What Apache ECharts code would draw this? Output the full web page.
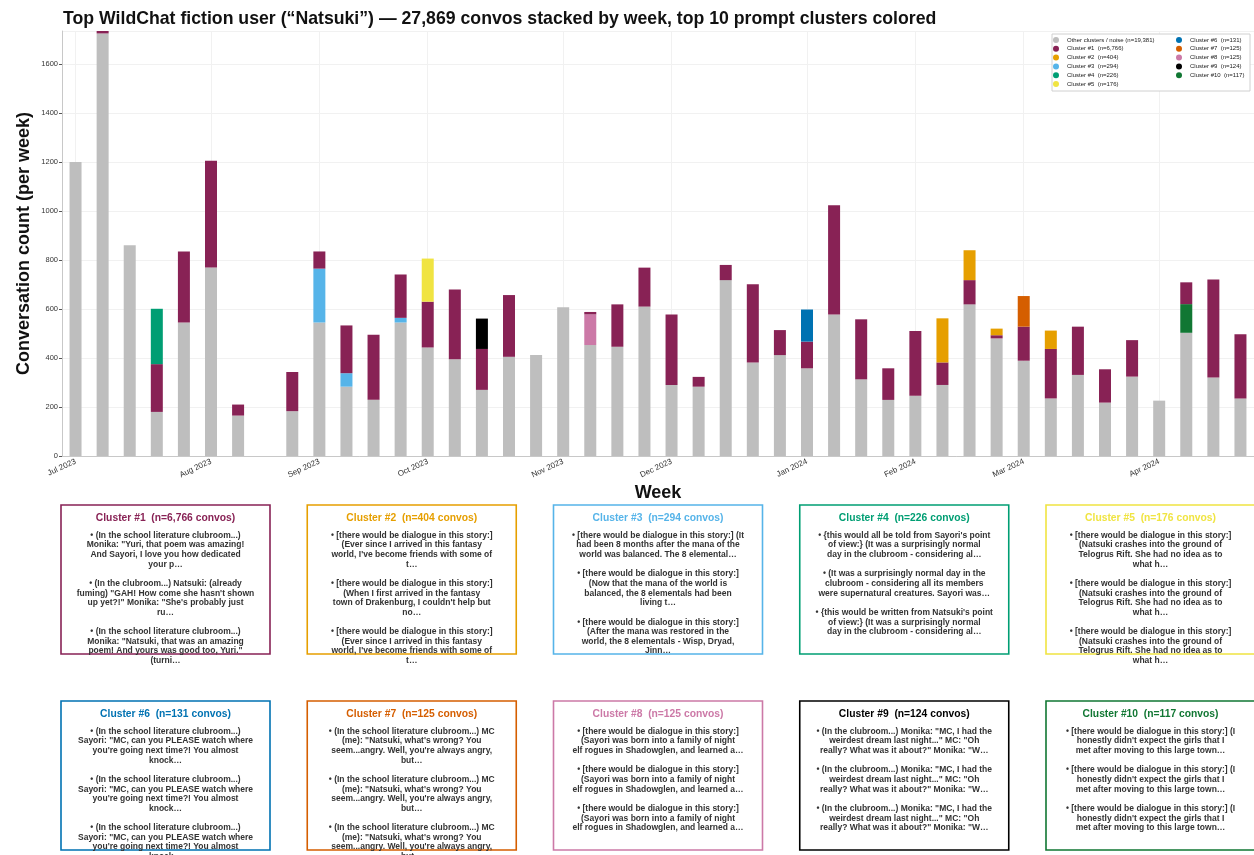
<!DOCTYPE html>
<html>
<head>
<meta charset="utf-8">
<script src="https://cdn.jsdelivr.net/npm/echarts@6/dist/echarts.min.js"></script>
<style>
  html, body { margin: 0; padding: 0; background: #fff; }
  #chart { width: 1254px; height: 855px; }
</style>
</head>
<body>
<div id="chart"></div>
<script>
// weeks (Monday start) shown on the x axis
var weeks = ["2023-06-26","2023-07-03","2023-07-10","2023-07-17","2023-07-24","2023-07-31","2023-08-07","2023-08-14",
  "2023-08-21","2023-08-28","2023-09-04","2023-09-11","2023-09-18","2023-09-25","2023-10-02","2023-10-09",
  "2023-10-16","2023-10-23","2023-10-30","2023-11-06","2023-11-13","2023-11-20","2023-11-27","2023-12-04",
  "2023-12-11","2023-12-18","2023-12-25","2024-01-01","2024-01-08","2024-01-15","2024-01-22","2024-01-29",
  "2024-02-05","2024-02-12","2024-02-19","2024-02-26","2024-03-04","2024-03-11","2024-03-18","2024-03-25",
  "2024-04-01","2024-04-08","2024-04-15","2024-04-22"];
var monthTickWeeks = [0, 5, 9, 13, 18, 22, 27, 31, 35, 40];
var monthTickLabels = ["Jul 2023","Aug 2023","Sep 2023","Oct 2023","Nov 2023","Dec 2023","Jan 2024","Feb 2024","Mar 2024","Apr 2024"];
var yTicks = [0, 200, 400, 600, 800, 1000, 1200, 1400, 1600];

// per-week counts
var otherCounts = [1200,1725,860,180,545,770,165,0,183,545,283,230,545,443,395,270,405,412,607,453,446,610,
  290,283,718,382,412,358,578,313,229,246,290,619,480,389,235,331,218,324,226,503,320,235];
var c1 = [0,10,0,195,290,435,45,0,160,70,195,265,177,187,285,167,252,0,0,10,173,159,288,40,62,319,102,109,
  446,245,129,264,92,99,13,139,202,197,136,149,0,89,401,262];
var c2 = [0,0,0,0,0,0,0,0,0,0,0,0,0,0,0,0,0,0,0,0,0,0,0,0,0,0,0,0,0,0,0,0,180,122,27,0,75,0,0,0,0,0,0,0];
var c3 = [0,0,0,0,0,0,0,0,0,220,55,0,19,0,0,0,0,0,0,0,0,0,0,0,0,0,0,0,0,0,0,0,0,0,0,0,0,0,0,0,0,0,0,0];
var c4 = [0,0,0,226,0,0,0,0,0,0,0,0,0,0,0,0,0,0,0,0,0,0,0,0,0,0,0,0,0,0,0,0,0,0,0,0,0,0,0,0,0,0,0,0];
var c5 = [0,0,0,0,0,0,0,0,0,0,0,0,0,176,0,0,0,0,0,0,0,0,0,0,0,0,0,0,0,0,0,0,0,0,0,0,0,0,0,0,0,0,0,0];
var c6 = [0,0,0,0,0,0,0,0,0,0,0,0,0,0,0,0,0,0,0,0,0,0,0,0,0,0,0,131,0,0,0,0,0,0,0,0,0,0,0,0,0,0,0,0];
var c7 = [0,0,0,0,0,0,0,0,0,0,0,0,0,0,0,0,0,0,0,0,0,0,0,0,0,0,0,0,0,0,0,0,0,0,0,125,0,0,0,0,0,0,0,0];
var c8 = [0,0,0,0,0,0,0,0,0,0,0,0,0,0,0,0,0,0,0,125,0,0,0,0,0,0,0,0,0,0,0,0,0,0,0,0,0,0,0,0,0,0,0,0];
var c9 = [0,0,0,0,0,0,0,0,0,0,0,0,0,0,0,124,0,0,0,0,0,0,0,0,0,0,0,0,0,0,0,0,0,0,0,0,0,0,0,0,0,0,0,0];
var c10 = [0,0,0,0,0,0,0,0,0,0,0,0,0,0,0,0,0,0,0,0,0,0,0,0,0,0,0,0,0,0,0,0,0,0,0,0,0,0,0,0,0,117,0,0];
var clusterWeekly = [c1, c2, c3, c4, c5, c6, c7, c8, c9, c10];

var otherTotal = "19,381";
var clusterTotals = ["6,766", "404", "294", "226", "176", "131", "125", "125", "124", "117"];
var clusterColors = ["#882255","#E69F00","#56B4E9","#009E73","#F0E442","#0072B2","#D55E00","#CC79A7","#000000","#117733"];
var otherColor = "#bebebe";
// stacking order of clusters above the gray base (as in the figure)
var stackOrder = [2, 7, 9, 0, 1, 3, 4, 5, 6, 8];

// example prompts per cluster (line breaks as shown)
var snippets = [
  ["• (In the school literature clubroom...)\nMonika: \"Yuri, that poem was amazing!\nAnd Sayori, I love you how dedicated\nyour p…",
   "• (In the clubroom...) Natsuki: (already\nfuming) \"GAH! How come she hasn't shown\nup yet?!\" Monika: \"She's probably just\nru…",
   "• (In the school literature clubroom...)\nMonika: \"Natsuki, that was an amazing\npoem! And yours was good too, Yuri.\"\n(turni…"],
  ["• [there would be dialogue in this story:]\n(Ever since I arrived in this fantasy\nworld, I've become friends with some of\nt…",
   "• [there would be dialogue in this story:]\n(When I first arrived in the fantasy\ntown of Drakenburg, I couldn't help but\nno…",
   "• [there would be dialogue in this story:]\n(Ever since I arrived in this fantasy\nworld, I've become friends with some of\nt…"],
  ["• [there would be dialogue in this story:] (It\nhad been 8 months after the mana of the\nworld was balanced. The 8 elemental…",
   "• [there would be dialogue in this story:]\n(Now that the mana of the world is\nbalanced, the 8 elementals had been\nliving t…",
   "• [there would be dialogue in this story:]\n(After the mana was restored in the\nworld, the 8 elementals - Wisp, Dryad,\nJinn…"],
  ["• {this would all be told from Sayori's point\nof view:} (It was a surprisingly normal\nday in the clubroom - considering al…",
   "• (It was a surprisingly normal day in the\nclubroom - considering all its members\nwere supernatural creatures. Sayori was…",
   "• {this would be written from Natsuki's point\nof view:} (It was a surprisingly normal\nday in the clubroom - considering al…"],
  ["• [there would be dialogue in this story:]\n(Natsuki crashes into the ground of\nTelogrus Rift. She had no idea as to\nwhat h…",
   "• [there would be dialogue in this story:]\n(Natsuki crashes into the ground of\nTelogrus Rift. She had no idea as to\nwhat h…",
   "• [there would be dialogue in this story:]\n(Natsuki crashes into the ground of\nTelogrus Rift. She had no idea as to\nwhat h…"],
  ["• (In the school literature clubroom...)\nSayori: \"MC, can you PLEASE watch where\nyou're going next time?! You almost\nknock…",
   "• (In the school literature clubroom...)\nSayori: \"MC, can you PLEASE watch where\nyou're going next time?! You almost\nknock…",
   "• (In the school literature clubroom...)\nSayori: \"MC, can you PLEASE watch where\nyou're going next time?! You almost\nknock…"],
  ["• (In the school literature clubroom...) MC\n(me): \"Natsuki, what's wrong? You\nseem...angry. Well, you're always angry,\nbut…",
   "• (In the school literature clubroom...) MC\n(me): \"Natsuki, what's wrong? You\nseem...angry. Well, you're always angry,\nbut…",
   "• (In the school literature clubroom...) MC\n(me): \"Natsuki, what's wrong? You\nseem...angry. Well, you're always angry,\nbut…"],
  ["• [there would be dialogue in this story:]\n(Sayori was born into a family of night\nelf rogues in Shadowglen, and learned a…",
   "• [there would be dialogue in this story:]\n(Sayori was born into a family of night\nelf rogues in Shadowglen, and learned a…",
   "• [there would be dialogue in this story:]\n(Sayori was born into a family of night\nelf rogues in Shadowglen, and learned a…"],
  ["• (In the clubroom...) Monika: \"MC, I had the\nweirdest dream last night...\" MC: \"Oh\nreally? What was it about?\" Monika: \"W…",
   "• (In the clubroom...) Monika: \"MC, I had the\nweirdest dream last night...\" MC: \"Oh\nreally? What was it about?\" Monika: \"W…",
   "• (In the clubroom...) Monika: \"MC, I had the\nweirdest dream last night...\" MC: \"Oh\nreally? What was it about?\" Monika: \"W…"],
  ["• [there would be dialogue in this story:] (I\nhonestly didn't expect the girls that I\nmet after moving to this large town…",
   "• [there would be dialogue in this story:] (I\nhonestly didn't expect the girls that I\nmet after moving to this large town…",
   "• [there would be dialogue in this story:] (I\nhonestly didn't expect the girls that I\nmet after moving to this large town…"]
];

var FONT = '"Liberation Sans", Arial, Helvetica, sans-serif';
var otherName = "Other clusters / noise (n=" + otherTotal + ")";
var clusterNames = clusterTotals.map(function (t, i) { return "Cluster #" + (i + 1) + "  (n=" + t + ")"; });

function isMonthTick(index) { return monthTickWeeks.indexOf(index) >= 0; }

var series = [{
  name: otherName, type: "bar", stack: "week", barWidth: 12,
  itemStyle: { color: otherColor }, data: otherCounts
}];
stackOrder.forEach(function (k) {
  series.push({
    name: clusterNames[k], type: "bar", stack: "week", barWidth: 12,
    itemStyle: { color: clusterColors[k] }, data: clusterWeekly[k]
  });
});

// snippet panels below the chart
var graphics = [{
  type: "rect", z: 10, shape: { x: 1052, y: 34, width: 198, height: 57 },
  style: { fill: "#fff", stroke: "#d0d0d0", lineWidth: 1 }
}];
clusterNames.forEach(function (n, i) {
  var col = i % 5, row = Math.floor(i / 5);
  var x = 61 + col * 246.25, y = row === 0 ? 505 : 701;
  var w = 209, h = 149, cx = x + w / 2;
  graphics.push({
    type: "rect", shape: { x: x, y: y, width: w, height: h },
    style: { fill: "#fff", stroke: clusterColors[i], lineWidth: 1.6 }
  });
  graphics.push({
    type: "text", z: 12,
    style: { text: "Cluster #" + (i + 1) + "  (n=" + clusterTotals[i] + " convos)", x: cx, y: y + 13,
      align: "center", verticalAlign: "middle", font: "bold 10.3px " + FONT, fill: clusterColors[i] }
  });
  graphics.push({
    type: "text", z: 12,
    style: { text: snippets[i].join("\n\n"), x: cx, y: y + 25.5, align: "center", verticalAlign: "top",
      font: "bold 8.5px " + FONT, fill: "#333", lineHeight: 9.65 }
  });
});

var legendBase = {
  orient: "vertical", top: 37, itemWidth: 12, itemHeight: 6, itemGap: 2.8, icon: "circle",
  padding: 0, selectedMode: false, z: 20,
  textStyle: { fontSize: 6, lineHeight: 6, color: "#222", fontFamily: FONT }
};

var option = {
  animation: false,
  textStyle: { fontFamily: FONT },
  title: {
    text: "Top WildChat fiction user (\u201cNatsuki\u201d) \u2014 27,869 convos stacked by week, top 10 prompt clusters colored",
    left: 58, top: 5,
    textStyle: { fontSize: 17.7, fontWeight: "bold", color: "#111", fontFamily: FONT }
  },
  legend: [
    Object.assign({}, legendBase, { left: 1053, data: [otherName].concat(clusterNames.slice(0, 5)) }),
    Object.assign({}, legendBase, { left: 1176, data: clusterNames.slice(5) })
  ],
  grid: { left: 62, right: 0, top: 31, bottom: 399 },
  xAxis: {
    type: "category", data: weeks,
    name: "Week", nameLocation: "middle", nameGap: 28,
    nameTextStyle: { fontSize: 18, fontWeight: "bold", color: "#111" },
    axisLine: { lineStyle: { color: "#c8c8c8", width: 1 } },
    axisTick: { alignWithLabel: true, interval: isMonthTick, length: 4, lineStyle: { color: "#555" } },
    axisLabel: {
      interval: isMonthTick, rotate: 25, fontSize: 8, color: "#333", margin: 5,
      formatter: function (v, idx) { var k = monthTickWeeks.indexOf(idx); return k >= 0 ? monthTickLabels[k] : ""; }
    },
    splitLine: { show: true, interval: isMonthTick, alignWithLabel: true, lineStyle: { color: "#f1f1f1" } }
  },
  yAxis: {
    type: "value", min: yTicks[0], max: 1735, interval: 200,
    name: "Conversation count (per week)", nameLocation: "middle", nameGap: 29, nameMoveOverlap: false,
    nameTextStyle: { fontSize: 18, fontWeight: "bold", color: "#111" },
    axisLine: { show: true, lineStyle: { color: "#c8c8c8" } },
    axisTick: { show: true, length: 3, lineStyle: { color: "#555" } },
    axisLabel: { fontSize: 7.5, color: "#333", margin: 4, showMaxLabel: false,
      formatter: function (v) { return String(v); } },
    splitLine: { lineStyle: { color: "#f1f1f1" } }
  },
  series: series,
  graphic: graphics
};

var myChart = echarts.init(document.getElementById("chart"));
myChart.setOption(option);
</script>
</body>
</html>
